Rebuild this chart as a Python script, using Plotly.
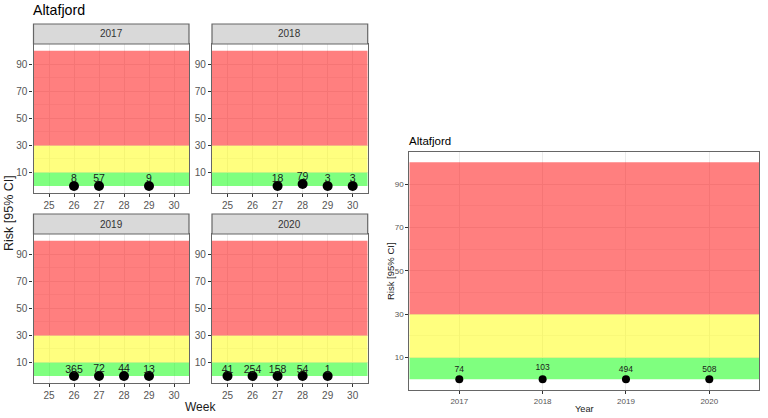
import plotly.graph_objects as go

W, H = 768, 418
FONT = "Liberation Sans"

# facet data, one set of lists per year
years = [2017, 2018, 2019, 2020]
weeks = {
    2017: [26, 27, 29],
    2018: [27, 28, 29, 30],
    2019: [26, 27, 28, 29],
    2020: [25, 26, 27, 28, 29],
}
risk = {
    2017: [0, 0, 0],
    2018: [0, 1.5, 0, 0],
    2019: [0, 0, 0, 0],
    2020: [0, 0, 0, 0, 0],
}
counts = {
    2017: [8, 57, 9],
    2018: [18, 79, 3, 3],
    2019: [365, 72, 44, 13],
    2020: [41, 254, 158, 54, 1],
}
# height of the count labels, in risk units
label_risk = {
    2017: [5, 5, 5],
    2018: [4.9, 6.6, 4.9, 4.9],
    2019: [3.9, 5.1, 5.1, 3.9],
    2020: [3.9, 3.9, 4.4, 3.9, 3.9],
}

# yearly summary
summary_risk = [0, 0, 0, 0]
summary_counts = [74, 103, 494, 508]
summary_label_risk = [4.4, 5.5, 4.4, 4.4]

# risk bands
band_low = [0, 10, 30]
band_high = [10, 30, 100]
band_colors = ["rgba(0,255,0,0.5)", "rgba(255,255,0,0.5)", "rgba(255,0,0,0.5)"]

week_ticks = [25, 26, 27, 28, 29, 30]
risk_ticks = [10, 30, 50, 70, 90]
minor_risk = [20, 40, 60, 80]


def px_x(x):
    return x / W


def px_y(y):
    return 1 - y / H


fig = go.Figure()
layout = {}


def add_panel(idx, left, right, top, bottom, x_range, tickvals, tick_size, line_w=1.2):
    suffix = "" if idx == 1 else str(idx)
    layout["xaxis" + suffix] = dict(
        domain=[px_x(left), px_x(right)],
        range=x_range,
        anchor="y" + suffix,
        tickmode="array",
        tickvals=tickvals,
        showgrid=True,
        gridcolor="#EBEBEB",
        gridwidth=1,
        zeroline=False,
        showline=True,
        mirror=True,
        linecolor="#666666",
        linewidth=line_w,
        ticks="outside",
        ticklen=3,
        tickcolor="#333333",
        tickfont=dict(family=FONT, size=tick_size, color="#555555"),
    )
    layout["yaxis" + suffix] = dict(
        domain=[px_y(bottom), px_y(top)],
        range=[-4.9, 104.9],
        anchor="x" + suffix,
        tickmode="array",
        tickvals=risk_ticks,
        showgrid=True,
        gridcolor="#EBEBEB",
        gridwidth=1,
        minor=dict(tickmode="array", tickvals=minor_risk, showgrid=True,
                   gridcolor="#F2F2F2", gridwidth=0.6, ticks=""),
        zeroline=False,
        showline=True,
        mirror=True,
        linecolor="#666666",
        linewidth=line_w,
        ticks="outside",
        ticklen=3,
        tickcolor="#333333",
        tickfont=dict(family=FONT, size=tick_size, color="#555555"),
    )
    # "between" only works with plain axis refs, not "x domain"
    for lo, hi, col in zip(band_low, band_high, band_colors):
        fig.add_shape(type="rect", xref="x" + suffix, yref="y" + suffix,
                      x0=x_range[0], x1=x_range[1], y0=lo, y1=hi, fillcolor=col, line_width=0,
                      layer="between")


def add_points(idx, x, y, text, y_text, size, font_size):
    suffix = "" if idx == 1 else str(idx)
    fig.add_trace(go.Scatter(x=x, y=y, mode="markers", xaxis="x" + suffix, yaxis="y" + suffix,
                             marker=dict(color="black", size=size), showlegend=False))
    fig.add_trace(go.Scatter(x=x, y=y_text, mode="text", text=[str(t) for t in text],
                             textposition="middle center", xaxis="x" + suffix, yaxis="y" + suffix,
                             textfont=dict(family=FONT, size=font_size, color="#1A1A1A"),
                             cliponaxis=False, showlegend=False))


def add_text(x, y, text, size, color="#1A1A1A", angle=0, anchor="center"):
    fig.add_annotation(xref="paper", yref="paper", x=px_x(x), y=px_y(y), text=text, showarrow=False,
                       xanchor=anchor, yanchor="middle", textangle=angle,
                       font=dict(family=FONT, size=size, color=color))


# left / right px of each facet column, top / bottom px of each row
columns = [(33.5, 189), (212, 367.7), (33.5, 189), (212, 367.7)]
rows = [(44, 192.7), (44, 192.7), (234, 382.7), (234, 382.7)]
strip_h = 20

for i, year in enumerate(years):
    left, right = columns[i]
    top, bottom = rows[i]
    add_panel(i + 1, left, right, top, bottom, [24.38, 30.6], week_ticks, 10)
    add_points(i + 1, weeks[year], risk[year], counts[year], label_risk[year], 10, 10.5)
    fig.add_shape(type="rect", xref="paper", yref="paper",
                  x0=px_x(left), x1=px_x(right), y0=px_y(top), y1=px_y(top - strip_h),
                  fillcolor="#D9D9D9", line=dict(color="#666666", width=1.2))
    add_text((left + right) / 2, top - strip_h / 2, str(year), 10, color="#333333")

# summary panel
add_panel(5, 409.3, 759.3, 151.7, 390, [2016.4, 2020.6], years, 8)
add_points(5, years, summary_risk, summary_counts, summary_label_risk, 8, 8.5)

add_text(31, 10, "Altafjord", 14.2, color="black", anchor="left")
add_text(407, 141, "Altafjord", 11.5, color="black", anchor="left")
add_text(200, 407, "Week", 12)
add_text(9, 213, "Risk [95% CI]", 12.5, angle=-90)
add_text(584, 409, "Year", 9.2)
add_text(390, 271, "Risk [95% CI]", 9.5, angle=-90)

fig.update_layout(
    width=W,
    height=H,
    margin=dict(l=0, r=0, t=0, b=0),
    paper_bgcolor="white",
    plot_bgcolor="white",
    showlegend=False,
    **layout,
)

fig.write_html("out.html", config={"displayModeBar": False},
               post_script="document.body.style.margin='0';")
